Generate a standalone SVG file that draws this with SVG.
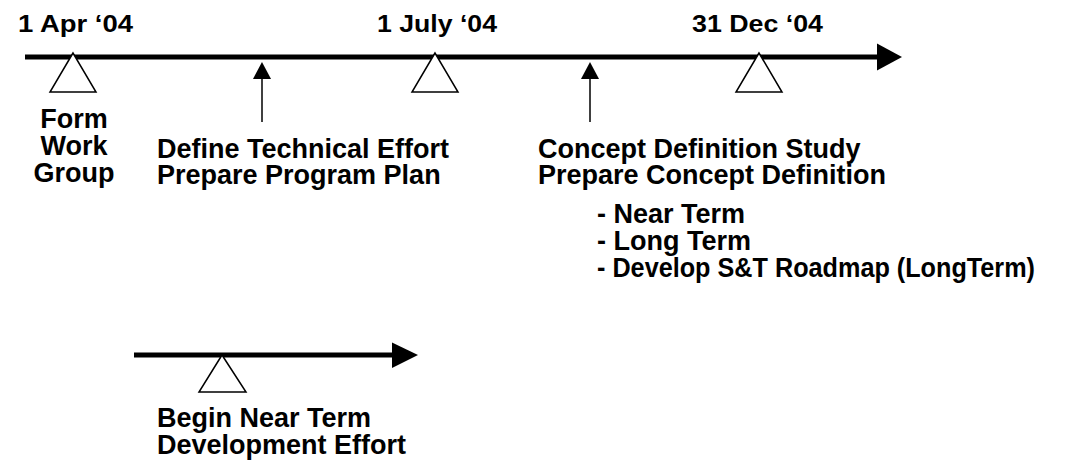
<svg xmlns="http://www.w3.org/2000/svg" width="1086" height="467" viewBox="0 0 1086 467">
<style>
.t{font-family:"Liberation Sans",Arial,sans-serif;font-weight:bold;font-size:27px;fill:#000}
.d{font-family:"Liberation Sans",Arial,sans-serif;font-weight:bold;font-size:24px;fill:#000}
.axis{stroke:#000;stroke-width:5;fill:none}
.tri{fill:#fff;stroke:#000;stroke-width:1.5}
.up{stroke:#000;stroke-width:1.5;fill:none}
</style>
<rect width="1086" height="467" fill="#fff"/>
<g id="connectors">
<line class="axis" x1="25" y1="57" x2="879" y2="57"/>
<polygon points="877,43.5 902,57 877,70.5" fill="#000"/>
<line class="axis" x1="134" y1="355" x2="394" y2="355"/>
<polygon points="392,342.5 418,355 392,368" fill="#000"/>
<line class="up" x1="262" y1="75" x2="262" y2="122"/>
<polygon points="253,79 262,62 271,79" fill="#000"/>
<line class="up" x1="590" y1="75" x2="590" y2="122"/>
<polygon points="581,79 590,62 599,79" fill="#000"/>
</g>
<g id="m-apr">
<text class="d" x="18" y="32" textLength="115" lengthAdjust="spacingAndGlyphs">1 Apr ‘04</text>
<polygon class="tri" points="73,53 50,92 96,92"/>
<text class="t" x="74" y="128" text-anchor="middle">Form</text>
<text class="t" x="74" y="155" text-anchor="middle">Work</text>
<text class="t" x="74" y="182" text-anchor="middle">Group</text>
</g>
<g id="m-july">
<text class="d" x="377" y="32" textLength="120" lengthAdjust="spacingAndGlyphs">1 July ‘04</text>
<polygon class="tri" points="435,53 412,92 458,92"/>
</g>
<g id="m-dec">
<text class="d" x="692" y="32" textLength="131" lengthAdjust="spacingAndGlyphs">31 Dec ‘04</text>
<polygon class="tri" points="759,53 736,92 782,92"/>
</g>
<g id="define">
<text class="t" x="157" y="158">Define Technical Effort</text>
<text class="t" x="157" y="184">Prepare Program Plan</text>
</g>
<g id="concept">
<text class="t" x="538" y="158">Concept Definition Study</text>
<text class="t" x="538" y="184">Prepare Concept Definition</text>
<text class="t" x="597" y="223">- Near Term</text>
<text class="t" x="597" y="250">- Long Term</text>
<text class="t" x="597" y="277" textLength="438" lengthAdjust="spacingAndGlyphs">- Develop S&amp;T Roadmap (LongTerm)</text>
</g>
<g id="begin">
<polygon class="tri" points="222,355 199,392 246,392"/>
<text class="t" x="157" y="427">Begin Near Term</text>
<text class="t" x="157" y="454">Development Effort</text>
</g>
</svg>
